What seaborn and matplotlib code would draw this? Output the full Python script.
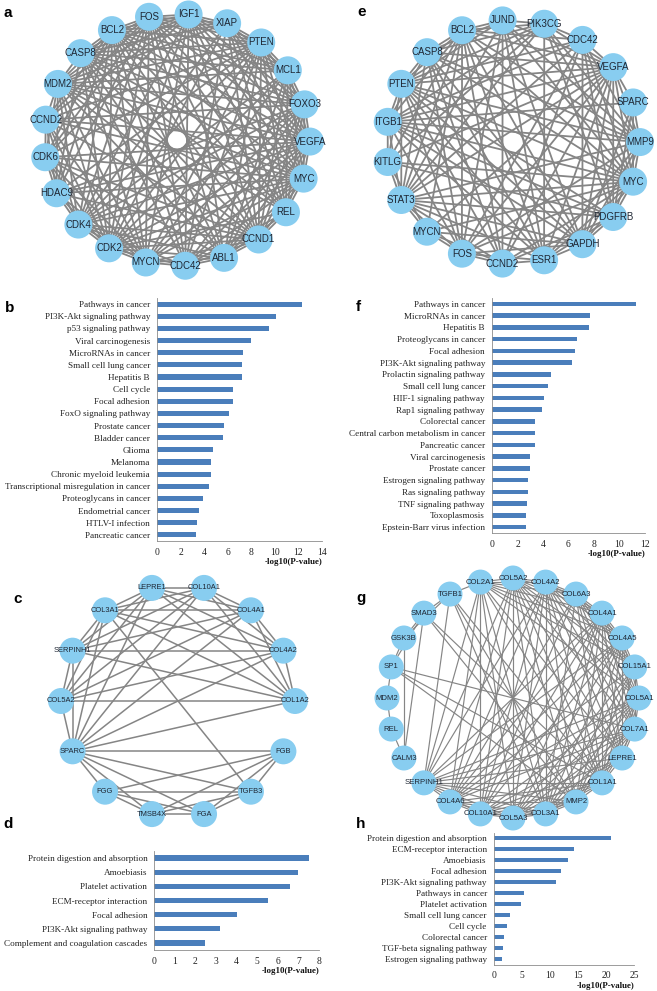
import numpy as np
import pandas as pd
import matplotlib
matplotlib.use("Agg")
import matplotlib.pyplot as plt
import seaborn as sns
from itertools import combinations

# ---------------- data ----------------
a_nodes = ["IGF1", "XIAP", "PTEN", "MCL1", "FOXO3", "VEGFA", "MYC", "REL", "CCND1", "ABL1",
           "CDC42", "MYCN", "CDK2", "CDK4", "HDAC9", "CDK6", "CCND2", "MDM2", "CASP8", "BCL2", "FOS"]
a_missing = [("HDAC9", "XIAP"), ("HDAC9", "MCL1"), ("HDAC9", "ABL1"), ("HDAC9", "CDC42"), ("HDAC9", "REL"),
             ("MYCN", "XIAP"), ("MYCN", "REL"), ("CDC42", "MCL1"), ("CDC42", "CDK6"), ("CDC42", "CCND2"),
             ("CDC42", "MDM2"), ("ABL1", "CCND2"), ("ABL1", "XIAP"), ("REL", "CDK6"), ("REL", "CDK4"),
             ("REL", "CCND2"), ("XIAP", "CDK6"), ("XIAP", "CCND2"), ("MCL1", "CDK6"), ("MCL1", "CCND2"),
             ("FOXO3", "CDK6"), ("IGF1", "HDAC9"), ("CASP8", "CDK6"), ("CASP8", "CDK4"), ("CASP8", "CCND2")]

b_terms = ["Pathways in cancer", "PI3K-Akt signaling pathway", "p53 signaling pathway", "Viral carcinogenesis",
           "MicroRNAs in cancer", "Small cell lung cancer", "Hepatitis B", "Cell cycle", "Focal adhesion",
           "FoxO signaling pathway", "Prostate cancer", "Bladder cancer", "Glioma", "Melanoma",
           "Chronic myeloid leukemia", "Transcriptional misregulation in cancer", "Proteoglycans in cancer",
           "Endometrial cancer", "HTLV-I infection", "Pancreatic cancer"]
b_values = [12.3, 10.1, 9.5, 7.95, 7.27, 7.24, 7.17, 6.47, 6.47, 6.07, 5.65, 5.62, 4.78, 4.58, 4.55,
            4.4, 3.92, 3.56, 3.39, 3.28]

c_nodes = ["LEPRE1", "COL10A1", "COL4A1", "COL4A2", "COL1A2", "FGB", "TGFB3", "FGA", "TMSB4X", "FGG",
           "SPARC", "COL5A2", "SERPINH1", "COL3A1"]
c_edges = [("LEPRE1", "COL10A1"), ("LEPRE1", "COL4A1"), ("LEPRE1", "COL4A2"), ("LEPRE1", "COL1A2"),
           ("LEPRE1", "COL3A1"), ("LEPRE1", "SERPINH1"), ("LEPRE1", "COL5A2"), ("LEPRE1", "SPARC"),
           ("COL10A1", "COL4A1"), ("COL10A1", "COL4A2"), ("COL10A1", "COL1A2"), ("COL10A1", "COL3A1"),
           ("COL10A1", "SERPINH1"), ("COL10A1", "COL5A2"), ("COL10A1", "SPARC"),
           ("COL4A1", "COL4A2"), ("COL4A1", "COL1A2"), ("COL4A1", "COL3A1"), ("COL4A1", "SERPINH1"),
           ("COL4A1", "COL5A2"), ("COL4A1", "SPARC"),
           ("COL4A2", "COL1A2"), ("COL4A2", "COL3A1"), ("COL4A2", "SERPINH1"), ("COL4A2", "COL5A2"),
           ("COL4A2", "SPARC"),
           ("COL1A2", "COL3A1"), ("COL1A2", "SERPINH1"), ("COL1A2", "COL5A2"), ("COL1A2", "SPARC"),
           ("COL3A1", "SERPINH1"), ("COL3A1", "COL5A2"), ("COL3A1", "SPARC"), ("COL3A1", "TGFB3"),
           ("SERPINH1", "COL5A2"), ("SERPINH1", "SPARC"), ("COL5A2", "SPARC"),
           ("SPARC", "FGB"), ("SPARC", "TGFB3"), ("SPARC", "FGA"), ("SPARC", "TMSB4X"), ("SPARC", "FGG"),
           ("FGB", "TGFB3"), ("FGB", "FGA"), ("FGB", "TMSB4X"), ("FGB", "FGG"),
           ("TGFB3", "FGA"), ("TGFB3", "TMSB4X"), ("TGFB3", "FGG"),
           ("FGA", "TMSB4X"), ("FGA", "FGG"), ("TMSB4X", "FGG")]

d_terms = ["Protein digestion and absorption", "Amoebiasis", "Platelet activation", "ECM-receptor interaction",
           "Focal adhesion", "PI3K-Akt signaling pathway", "Complement and coagulation cascades"]
d_values = [7.5, 6.99, 6.59, 5.52, 4.03, 3.2, 2.48]

e_nodes = ["JUND", "PIK3CG", "CDC42", "VEGFA", "SPARC", "MMP9", "MYC", "PDGFRB", "GAPDH", "ESR1",
           "CCND2", "FOS", "MYCN", "STAT3", "KITLG", "ITGB1", "PTEN", "CASP8", "BCL2"]
e_missing = [("JUND", "SPARC"), ("JUND", "KITLG"), ("JUND", "ITGB1"), ("JUND", "PDGFRB"), ("JUND", "CDC42"),
             ("JUND", "MYCN"), ("PIK3CG", "SPARC"), ("PIK3CG", "MYCN"), ("PIK3CG", "CCND2"), ("PIK3CG", "FOS"),
             ("PIK3CG", "GAPDH"), ("CDC42", "SPARC"), ("CDC42", "MYCN"), ("CDC42", "KITLG"), ("CDC42", "CASP8"),
             ("CDC42", "ESR1"), ("SPARC", "CASP8"), ("SPARC", "BCL2"), ("SPARC", "MYCN"), ("SPARC", "CCND2"),
             ("SPARC", "FOS"), ("SPARC", "STAT3"), ("SPARC", "PTEN"), ("SPARC", "KITLG"), ("SPARC", "ESR1"),
             ("MMP9", "MYCN"), ("MMP9", "KITLG"), ("MMP9", "CCND2"), ("PDGFRB", "MYCN"), ("PDGFRB", "CASP8"),
             ("PDGFRB", "BCL2"), ("PDGFRB", "FOS"), ("GAPDH", "KITLG"), ("GAPDH", "CCND2"), ("ESR1", "MYCN"),
             ("ESR1", "KITLG"), ("KITLG", "CASP8"), ("KITLG", "CCND2"), ("KITLG", "FOS"), ("ITGB1", "MYCN"),
             ("ITGB1", "CCND2"), ("MYCN", "CASP8"), ("MYCN", "PTEN")]

f_terms = ["Pathways in cancer", "MicroRNAs in cancer", "Hepatitis B", "Proteoglycans in cancer",
           "Focal adhesion", "PI3K-Akt signaling pathway", "Prolactin signaling pathway",
           "Small cell lung cancer", "HIF-1 signaling pathway", "Rap1 signaling pathway", "Colorectal cancer",
           "Central carbon metabolism in cancer", "Pancreatic cancer", "Viral carcinogenesis",
           "Prostate cancer", "Estrogen signaling pathway", "Ras signaling pathway", "TNF signaling pathway",
           "Toxoplasmosis", "Epstein-Barr virus infection"]
f_values = [11.27, 7.66, 7.6, 6.67, 6.5, 6.27, 4.63, 4.39, 4.1, 3.95, 3.4, 3.37, 3.35, 2.98, 2.95,
            2.85, 2.8, 2.75, 2.7, 2.64]

g_nodes = ["COL5A2", "COL4A2", "COL6A3", "COL4A1", "COL4A5", "COL15A1", "COL5A1", "COL7A1", "LEPRE1",
           "COL1A1", "MMP2", "COL3A1", "COL5A3", "COL10A1", "COL4A6", "SERPINH1", "CALM3", "REL", "MDM2",
           "SP1", "GSK3B", "SMAD3", "TGFB1", "COL2A1"]
g_cluster = ["COL5A2", "COL4A2", "COL6A3", "COL4A1", "COL4A5", "COL15A1", "COL5A1", "COL7A1", "LEPRE1",
             "COL1A1", "MMP2", "COL3A1", "COL5A3", "COL10A1", "COL4A6", "SERPINH1", "COL2A1"]
g_cluster_missing = [("MMP2", "LEPRE1"), ("MMP2", "COL6A3"), ("MMP2", "COL2A1"), ("LEPRE1", "COL4A6"),
                     ("LEPRE1", "COL15A1"), ("SERPINH1", "COL15A1"), ("SERPINH1", "COL6A3"),
                     ("COL10A1", "COL15A1"), ("COL5A3", "COL6A3"), ("COL2A1", "COL7A1")]
g_extra_edges = [("TGFB1", "SMAD3"), ("TGFB1", "GSK3B"), ("SMAD3", "GSK3B"), ("SMAD3", "SP1"),
                 ("GSK3B", "SP1"), ("SP1", "MDM2"), ("MDM2", "REL"), ("REL", "CALM3"), ("SMAD3", "CALM3"),
                 ("TGFB1", "COL1A1"), ("TGFB1", "MMP2"), ("TGFB1", "COL3A1"), ("TGFB1", "SERPINH1"),
                 ("TGFB1", "COL2A1"), ("SMAD3", "COL1A1"), ("SMAD3", "MMP2"), ("SP1", "COL1A1"),
                 ("SP1", "MMP2"), ("SP1", "COL7A1"), ("GSK3B", "CALM3")]

h_terms = ["Protein digestion and absorption", "ECM-receptor interaction", "Amoebiasis", "Focal adhesion",
           "PI3K-Akt signaling pathway", "Pathways in cancer", "Platelet activation", "Small cell lung cancer",
           "Cell cycle", "Colorectal cancer", "TGF-beta signaling pathway", "Estrogen signaling pathway"]
h_values = [20.9, 14.3, 13.2, 12.0, 11.0, 5.3, 4.8, 2.85, 2.37, 1.9, 1.7, 1.53]

x_label = "-log10(P-value)"

# ---------------- style ----------------
sns.set_style("white")
plt.rcParams["font.family"] = ["Liberation Serif", "DejaVu Serif"]
NODE = "#88CDF0"
EDGE = "#858585"
BAR = "#4A7EBB"
SPINE = "#8C8C8C"
SANS = ["Liberation Sans", "DejaVu Sans"]

W, H = 657, 991
fig = plt.figure(figsize=(W / 100, H / 100), dpi=100)


def px_axes(x0, y0, x1, y1):
    return fig.add_axes([x0 / W, 1 - y1 / H, (x1 - x0) / W, (y1 - y0) / H])


def draw_network(box, nodes, edges, center, radii, start_deg, node_d, fs, lw):
    ax = px_axes(*box)
    n = len(nodes)
    ang = np.deg2rad(start_deg + 360.0 * np.arange(n) / n)
    xs = center[0] + radii[0] * np.sin(ang)
    ys = center[1] - radii[1] * np.cos(ang)
    pos = {nm: (x, y) for nm, x, y in zip(nodes, xs, ys)}
    for u, v in edges:
        ax.plot([pos[u][0], pos[v][0]], [pos[u][1], pos[v][1]], color=EDGE, lw=lw,
                solid_capstyle="butt", zorder=1)
    df = pd.DataFrame({"x": xs, "y": ys, "gene": nodes})
    sns.scatterplot(data=df, x="x", y="y", s=(node_d * 0.72) ** 2, color=NODE, edgecolor="none",
                    linewidth=0, ax=ax, zorder=3, legend=False, clip_on=False)
    for nm, x, y in zip(nodes, xs, ys):
        ax.text(x, y, nm, ha="center", va="center", fontsize=fs, family=SANS, color="#1E2633", zorder=4)
    ax.set_xlim(box[0], box[2])
    ax.set_ylim(box[3], box[1])
    ax.axis("off")


def all_minus(nodes, missing):
    miss = {frozenset(p) for p in missing}
    return [p for p in combinations(nodes, 2) if frozenset(p) not in miss]


def draw_bars(box, terms, values, xmax, step, fs=6.6, width=0.42):
    ax = px_axes(*box)
    df = pd.DataFrame({"term": terms, "value": values})
    sns.barplot(data=df, x="value", y="term", orient="h", color=BAR, saturation=1, width=width,
                linewidth=0, ax=ax)
    n = len(terms)
    ax.set_xlim(0, xmax)
    ax.set_ylim(n - 0.5, -0.5)
    ax.set_xticks(np.arange(0, xmax + 0.001, step))
    ax.set_xticklabels([f"{int(t)}" for t in np.arange(0, xmax + 0.001, step)])
    ax.set_yticks(np.arange(n + 1) - 0.5, minor=True)
    ax.tick_params(axis="y", which="major", length=0, pad=5, labelsize=fs, colors="#222222")
    ax.tick_params(axis="y", which="minor", length=3, direction="out", color=SPINE, width=0.6)
    ax.tick_params(axis="x", which="major", length=3, direction="out", color=SPINE, width=0.6,
                   labelsize=fs + 0.3, pad=2, labelcolor="#222222")
    for s in ["top", "right"]:
        ax.spines[s].set_visible(False)
    for s in ["left", "bottom"]:
        ax.spines[s].set_color(SPINE)
        ax.spines[s].set_linewidth(0.6)
    ax.set_ylabel("")
    ax.set_xlabel(x_label, loc="right", fontsize=6.4, fontweight="bold", labelpad=1, color="#111111")
    ax.grid(False)
    ax.set_facecolor("none")


# networks
draw_network((0, 0, 328, 285), a_nodes, all_minus(a_nodes, a_missing), (177, 140), (133, 126), 5.0,
             28, 7.0, 1.3)
draw_network((330, 0, 657, 285), e_nodes, all_minus(e_nodes, e_missing), (513, 142), (127, 122), -4.7,
             28, 7.0, 1.3)
draw_network((0, 575, 328, 835), c_nodes, c_edges, (178, 701), (117, 116), -360.0 / 28, 26, 5.4, 1.1)
g_edges = all_minus(g_cluster, g_cluster_missing) + g_extra_edges
draw_network((330, 570, 657, 835), g_nodes, g_edges, (513, 698), (126, 120), 0.0, 25, 5.6, 0.85)

# bar charts
draw_bars((157, 298, 322, 541), b_terms, b_values, 14, 2)
draw_bars((492, 298, 645, 533), f_terms, f_values, 12, 2, width=0.38)
draw_bars((154.3, 851, 319, 950), d_terms, d_values, 8, 1, width=0.38)
draw_bars((493.7, 832.5, 634.3, 964.5), h_terms, h_values, 25, 5, width=0.45)

# panel letters
for letter, x, y in [("a", 3, 17), ("b", 5, 312), ("c", 13, 603), ("d", 3, 828),
                     ("e", 357, 16), ("f", 356, 311), ("g", 356, 602), ("h", 356, 828)]:
    fig.text(x / W, 1 - y / H, letter, ha="left", va="baseline", fontsize=11, fontweight="bold",
             family=SANS, color="black")

fig.savefig("out.png", dpi=100, facecolor="white")
